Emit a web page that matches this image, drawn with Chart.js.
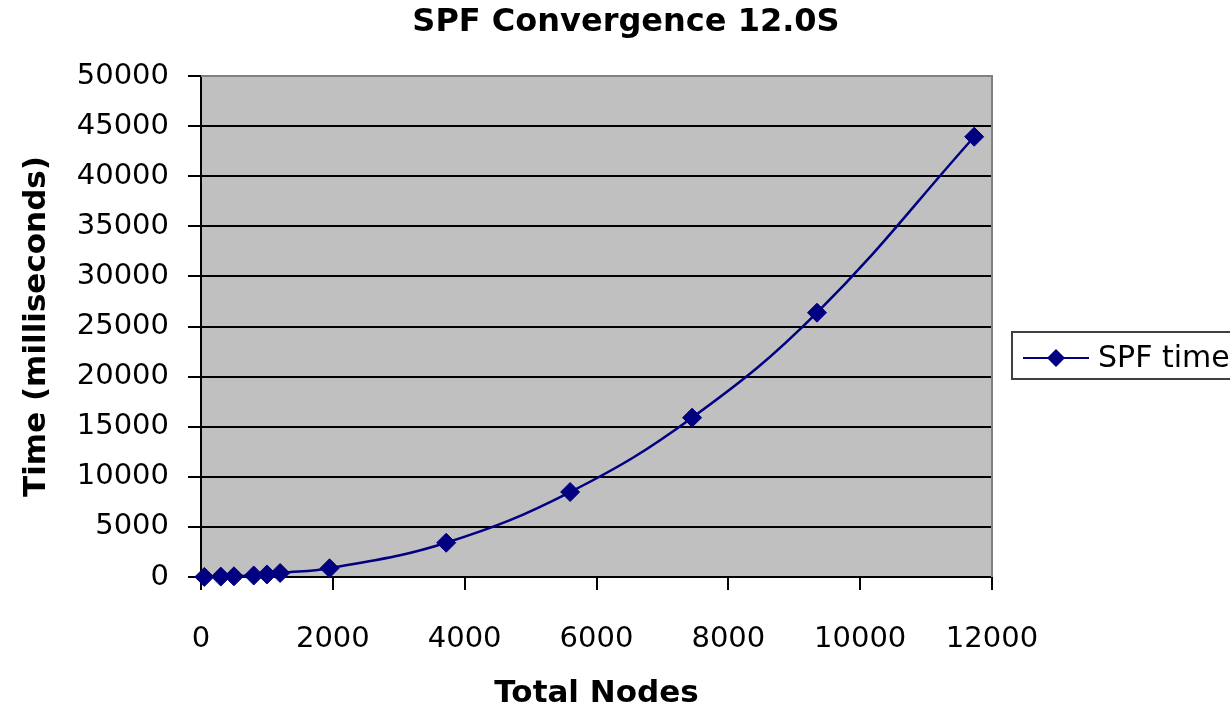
<!DOCTYPE html>
<html>
<head>
<meta charset="utf-8">
<title>SPF Convergence 12.0S</title>
<script src="https://cdn.jsdelivr.net/npm/chart.js@4/dist/chart.umd.min.js"></script>
<style>
  html, body { margin: 0; padding: 0; background: #ffffff; }
  #chart { display: block; }
</style>
</head>
<body>
<canvas id="chart" width="1230" height="709"></canvas>
<script>
// values
const chart_title = "SPF Convergence 12.0S";
const series_name = "SPF time";
const total_nodes = [50, 300, 500, 800, 1000, 1200, 1950, 3720, 5600, 7450, 9345, 11730];
const spf_time_ms = [10, 40, 70, 150, 250, 400, 870, 3420, 8480, 15900, 26380, 43940];

const navy = "#000080";
const font_family = "'DejaVu Sans', 'Liberation Sans', Arial, sans-serif";

// plot background + grey top/right frame, like the old excel chart
const plotFrame = {
    id: "plotFrame",
    beforeDraw(chart) {
        const { ctx, chartArea: a } = chart;
        ctx.save();
        ctx.fillStyle = "#c0c0c0";
        ctx.fillRect(a.left, a.top, a.right - a.left, a.bottom - a.top);
        ctx.restore();
    },
    beforeDatasetsDraw(chart) {
        const { ctx, chartArea: a } = chart;
        ctx.save();
        ctx.strokeStyle = "#808080";
        ctx.lineWidth = 2;
        ctx.beginPath();
        ctx.moveTo(a.left, a.top);
        ctx.lineTo(a.right, a.top);
        ctx.lineTo(a.right, a.bottom);
        ctx.stroke();
        ctx.restore();
    },
    afterDraw(chart) {
        const { ctx, chartArea: a } = chart;
        ctx.save();
        // title
        ctx.fillStyle = "#000";
        ctx.font = "bold 32px " + font_family;
        ctx.textAlign = "center";
        ctx.textBaseline = "alphabetic";
        ctx.fillText(chart_title, 626, 31);

        // legend box on the right, cut by the canvas edge
        const lx = a.right + 20, ly = 332, lw = 222, lh = 47;
        ctx.strokeStyle = "#404040";
        ctx.lineWidth = 2;
        ctx.strokeRect(lx, ly, lw, lh);
        const cy = ly + 26;
        ctx.strokeStyle = navy;
        ctx.lineWidth = 2;
        ctx.beginPath();
        ctx.moveTo(lx + 11, cy);
        ctx.lineTo(lx + 77, cy);
        ctx.stroke();
        ctx.fillStyle = navy;
        ctx.beginPath();
        ctx.moveTo(lx + 44, cy - 9);
        ctx.lineTo(lx + 53, cy);
        ctx.lineTo(lx + 44, cy + 9);
        ctx.lineTo(lx + 35, cy);
        ctx.closePath();
        ctx.fill();
        ctx.fillStyle = "#000";
        ctx.font = "30px " + font_family;
        ctx.textAlign = "left";
        ctx.fillText(series_name, lx + 86, ly + 35);
        ctx.restore();
    }
};

new Chart(document.getElementById("chart"), {
    type: "line",
    data: {
        datasets: [{
            label: series_name,
            data: total_nodes.map((x, i) => ({ x: x, y: spf_time_ms[i] })),
            borderColor: navy,
            backgroundColor: navy,
            borderWidth: 2.5,
            tension: 0.4,
            pointStyle: "rectRot",
            pointRadius: 9.5,
            pointHoverRadius: 9.5,
            pointBackgroundColor: navy,
            pointBorderColor: navy,
            pointBorderWidth: 1,
            clip: false,
        }],
    },
    options: {
        responsive: false,
        devicePixelRatio: 1,
        animation: false,
        layout: { padding: { top: 76, right: 238, bottom: 0, left: 0 } },
        plugins: {
            legend: { display: false },
            title: { display: false },
            tooltip: { enabled: false },
        },
        scales: {
            x: {
                type: "linear",
                min: 0,
                max: 12000,
                afterFit: (scale) => { scale.height = 132; },
                ticks: {
                    stepSize: 2000,
                    color: "#000",
                    padding: 32,
                    maxRotation: 0,
                    callback: (v) => String(v),
                    font: { family: font_family, size: 29 },
                },
                grid: {
                    drawOnChartArea: false,
                    drawTicks: true,
                    tickLength: 13,
                    color: "#000",
                    lineWidth: 2,
                },
                border: { display: true, color: "#000", width: 2 },
                title: {
                    display: true,
                    text: "Total Nodes",
                    color: "#000",
                    padding: { top: 0, bottom: 0 },
                    font: { family: font_family, size: 31, weight: "bold", lineHeight: 1 },
                },
            },
            y: {
                min: 0,
                max: 50000,
                afterFit: (scale) => { scale.width = 201; },
                ticks: {
                    stepSize: 5000,
                    color: "#000",
                    padding: 19,
                    callback: (v) => String(v),
                    font: { family: font_family, size: 29 },
                },
                grid: {
                    color: "#000",
                    lineWidth: 2,
                    tickLength: 13,
                },
                border: { display: true, color: "#000", width: 2 },
                title: {
                    display: true,
                    text: "Time (milliseconds)",
                    color: "#000",
                    padding: { top: 18, bottom: 0 },
                    font: { family: font_family, size: 31, weight: "bold" },
                },
            },
        },
    },
    plugins: [plotFrame],
});
</script>
</body>
</html>
